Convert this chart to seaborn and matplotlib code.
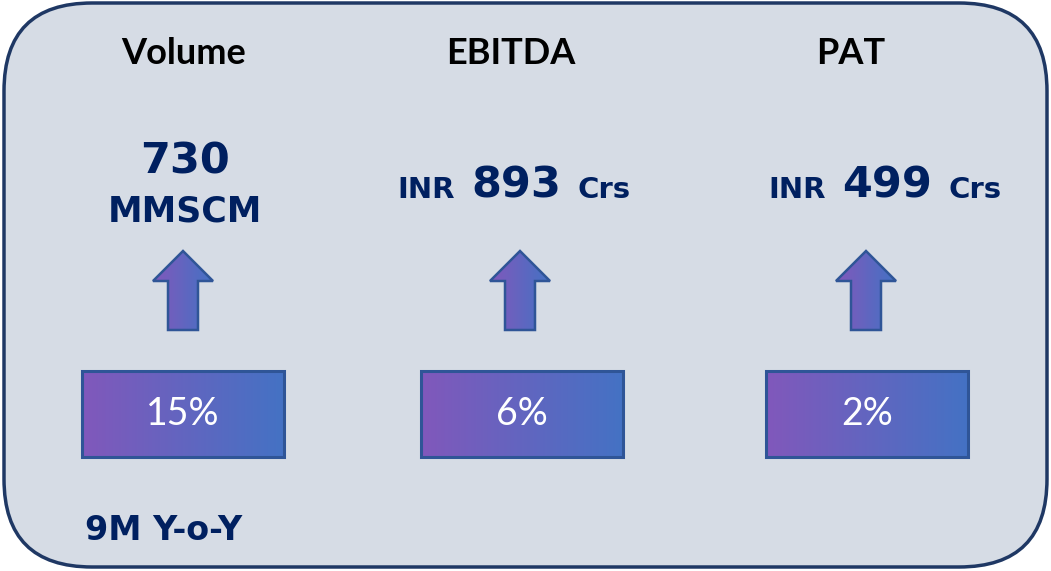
import numpy as np
import matplotlib
matplotlib.use("Agg")
import matplotlib.pyplot as plt
import seaborn as sns
from matplotlib.patches import FancyBboxPatch, Polygon, Rectangle
from matplotlib.colors import LinearSegmentedColormap

# ---- data ----
metrics = ["Volume", "EBITDA", "PAT"]
prefixes = ["", "INR", "INR"]
values = ["730", "893", "499"]
units = ["MMSCM", "Crs", "Crs"]
growth = [15, 6, 2]
footnote = "9M Y-o-Y"

sns.set_theme(style="white")
plt.rcParams["font.family"] = ["Lato", "DejaVu Sans"]

W, H = 1051, 571
fig = plt.figure(figsize=(W / 100, H / 100), dpi=100)
ax = fig.add_axes([0, 0, 1, 1])
ax.set_xlim(0, W)
ax.set_ylim(H, 0)
ax.axis("off")

NAVY = "#002060"
FRAME_FILL = "#D6DCE5"
FRAME_EDGE = "#1F3864"
BOX_EDGE = "#2F5597"
NAVY_FONT = ["DejaVu Sans"]
cmap = LinearSegmentedColormap.from_list("pb", ["#8158BB", "#4472C4"])

frame = FancyBboxPatch((4, 3), W - 8, H - 7,
                       boxstyle="round,pad=0,rounding_size=88",
                       fc=FRAME_FILL, ec=FRAME_EDGE, lw=2.5, zorder=1)
ax.add_patch(frame)

title_x = [184, 511, 851]
value_x = [185, 514, 885]
arrow_x = [183, 520, 866]
box_x = [183, 522, 867]

grad = np.linspace(0, 1, 256).reshape(1, -1)

def gradient_patch(patch, x0, x1, y0, y1, lw):
    ax.add_patch(patch)
    im = ax.imshow(grad, cmap=cmap, extent=(x0, x1, y1, y0), aspect="auto",
                   zorder=2, interpolation="bilinear")
    im.set_clip_path(patch)
    if isinstance(patch, Polygon):
        edge = Polygon(patch.get_xy(), closed=True, fc="none", ec=BOX_EDGE, lw=lw, zorder=3)
    else:
        edge = Rectangle(patch.get_xy(), patch.get_width(), patch.get_height(),
                         fc="none", ec=BOX_EDGE, lw=lw, zorder=3)
    ax.add_patch(edge)

fig.canvas.draw()
renderer = fig.canvas.get_renderer()

def text_width(t):
    return t.get_window_extent(renderer=renderer).width

for i, m in enumerate(metrics):
    ax.text(title_x[i], 54, m, ha="center", va="center", fontsize=26,
            fontweight="bold", color="black", zorder=4)

    if prefixes[i] == "":
        ax.text(value_x[i], 161, values[i], ha="center", va="center", fontsize=31,
                fontweight="bold", color=NAVY, zorder=4, family=NAVY_FONT)
        ax.text(value_x[i], 212, units[i], ha="center", va="center", fontsize=25,
                fontweight="bold", color=NAVY, zorder=4, family=NAVY_FONT)
    else:
        parts = [(prefixes[i], 21), (values[i], 31), (units[i], 21)]
        gap = 16
        objs = []
        for s, fs in parts:
            t = ax.text(0, 198, s, ha="left", va="baseline", fontsize=fs,
                        fontweight="bold", color=NAVY, zorder=4, family=NAVY_FONT)
            objs.append(t)
        widths = [text_width(t) for t in objs]
        total = sum(widths) + gap * (len(objs) - 1)
        x = value_x[i] - total / 2
        for t, w in zip(objs, widths):
            t.set_x(x)
            x += w + gap

    # arrow
    cx = arrow_x[i]
    pts = [(cx, 251), (cx + 30, 281), (cx + 15, 281), (cx + 15, 330),
           (cx - 15, 330), (cx - 15, 281), (cx - 30, 281)]
    arr = Polygon(pts, closed=True, fc="none", ec="none", zorder=2)
    gradient_patch(arr, cx - 30, cx + 30, 251, 330, 1.8)

    # growth box
    bx = box_x[i]
    rect = Rectangle((bx - 101, 371), 202, 86, fc="none", ec="none", zorder=2)
    gradient_patch(rect, bx - 101, bx + 101, 371, 457, 2.2)
    ax.text(bx, 414, f"{growth[i]}%", ha="center", va="center", fontsize=27,
            fontweight="normal", color="white", zorder=4)

ax.text(85, 530, footnote, ha="left", va="center", fontsize=24,
        fontweight="bold", color=NAVY, zorder=4, family=NAVY_FONT)

fig.savefig("out.png", dpi=100, facecolor="white")
